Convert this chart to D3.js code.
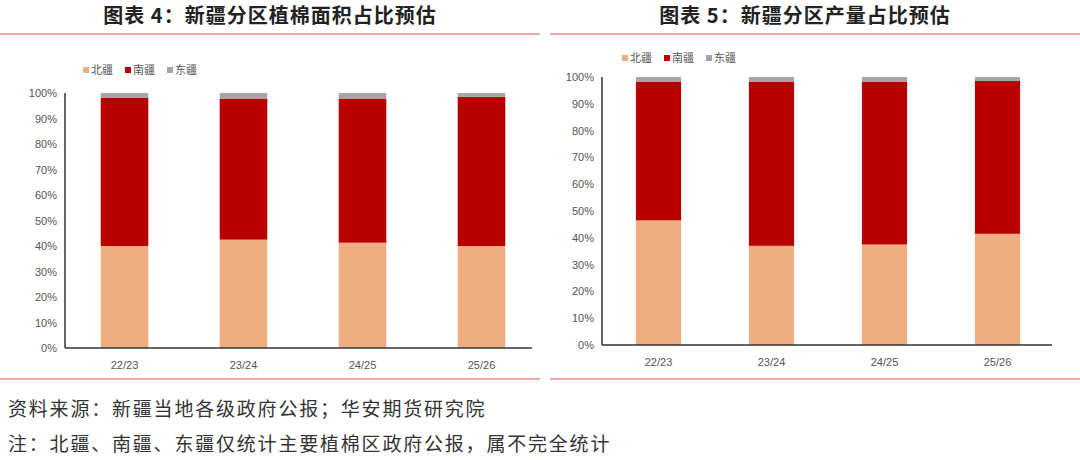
<!DOCTYPE html>
<html><head><meta charset="utf-8">
<script src="https://cdn.jsdelivr.net/npm/d3@7"></script>
<style>body{margin:0;background:#fff;}</style>
</head><body>
<svg id="chart" width="1080" height="460"></svg>
<script>
var categories = ["22/23", "23/24", "24/25", "25/26"];
var seriesNames = ["北疆", "南疆", "东疆"];
var colors = ["#efad82", "#b90000", "#a6a6a6"];
var areaNorth = [40.0, 42.5, 41.3, 40.0];
var areaSouth = [58.2, 55.3, 56.5, 58.5];
var areaEast = [1.8, 2.2, 2.2, 1.5];
var prodNorth = [46.5, 37.0, 37.5, 41.5];
var prodSouth = [51.8, 61.3, 60.8, 57.0];
var prodEast = [1.7, 1.7, 1.7, 1.5];
var yTicks = [0, 10, 20, 30, 40, 50, 60, 70, 80, 90, 100];

var svg = d3.select("#chart");

// title lines
svg.append("line").attr("x1", 0).attr("x2", 540).attr("y1", 34).attr("y2", 34).style("stroke", "#d9534f").style("stroke-width", 1);
svg.append("line").attr("x1", 550).attr("x2", 1080).attr("y1", 34).attr("y2", 34).style("stroke", "#d9534f").style("stroke-width", 1);
svg.append("line").attr("x1", 0).attr("x2", 540).attr("y1", 379).attr("y2", 379).style("stroke", "#d9534f").style("stroke-width", 1);
svg.append("line").attr("x1", 550).attr("x2", 1080).attr("y1", 379).attr("y2", 379).style("stroke", "#d9534f").style("stroke-width", 1);

function drawChart(o) {
    var rows = categories.map(function(c, i) {
        return {cat: c, "北疆": o.data[0][i], "南疆": o.data[1][i], "东疆": o.data[2][i]};
    });
    var stacked = d3.stack().keys(seriesNames)(rows);
    var x = d3.scaleBand().domain(categories).range([o.x0, o.x1]).paddingInner(0.6).paddingOuter(0.3);
    var y = d3.scaleLinear().domain([0, 100]).range([o.y0, o.y1]);
    var g = svg.append("g");

    g.append("text").attr("x", o.tx).attr("y", 23).attr("text-anchor", "middle")
        .style("font-family", "Noto Sans CJK SC").style("font-weight", "bold").style("font-size", "20px")
        .style("letter-spacing", "1px").style("fill", "#222")
        .text(o.title);

    stacked.forEach(function(s, k) {
        g.selectAll(null).data(s).enter().append("rect")
            .attr("x", function(d) { return x(d.data.cat); })
            .attr("width", x.bandwidth())
            .attr("y", function(d) { return y(d[1]); })
            .attr("height", function(d) { return y(d[0]) - y(d[1]); })
            .style("fill", colors[k]);
    });

    yTicks.forEach(function(t) {
        g.append("text").attr("x", o.x0 - 8).attr("y", y(t) + 4).attr("text-anchor", "end")
            .style("font-family", "Liberation Sans").style("font-size", "11px").style("fill", "#555").text(t + "%");
    });
    g.append("line").attr("x1", o.x0).attr("x2", o.x0).attr("y1", y(100)).attr("y2", y(0)).style("stroke", "#333").style("stroke-width", 1.5);
    g.append("line").attr("x1", o.x0).attr("x2", o.axisEnd).attr("y1", y(0)).attr("y2", y(0)).style("stroke", "#333").style("stroke-width", 1.5);
    categories.forEach(function(c) {
        g.append("text").attr("x", x(c) + x.bandwidth() / 2).attr("y", y(0) + 21).attr("text-anchor", "middle")
            .style("font-family", "Liberation Sans").style("font-size", "11px").style("fill", "#555").text(c);
    });

    var lx = o.lx;
    seriesNames.forEach(function(n, k) {
        g.append("rect").attr("x", lx).attr("y", o.ly - 4).attr("width", 6).attr("height", 6).style("fill", colors[k]);
        g.append("text").attr("x", lx + 8).attr("y", o.ly + 3)
            .style("font-family", "Noto Sans CJK SC").style("font-size", "11px").style("fill", "#555").text(n);
        lx += 42;
    });
}

drawChart({title: "图表 4：新疆分区植棉面积占比预估", tx: 270, x0: 65, x1: 541, axisEnd: 532, y0: 348, y1: 93,
    lx: 83, ly: 71, data: [areaNorth, areaSouth, areaEast]});
drawChart({title: "图表 5：新疆分区产量占比预估", tx: 805, x0: 602, x1: 1054, axisEnd: 1052, y0: 345, y1: 77,
    lx: 622, ly: 59, data: [prodNorth, prodSouth, prodEast]});

svg.append("text").attr("x", 8).attr("y", 416).style("font-family", "Noto Sans CJK SC").style("font-size", "19px")
    .style("letter-spacing", "1.8px").style("fill", "#333")
    .text("资料来源：新疆当地各级政府公报；华安期货研究院");
svg.append("text").attr("x", 8).attr("y", 451).style("font-family", "Noto Sans CJK SC").style("font-size", "19px")
    .style("letter-spacing", "1.8px").style("fill", "#333")
    .text("注：北疆、南疆、东疆仅统计主要植棉区政府公报，属不完全统计");
</script>
</body></html>
